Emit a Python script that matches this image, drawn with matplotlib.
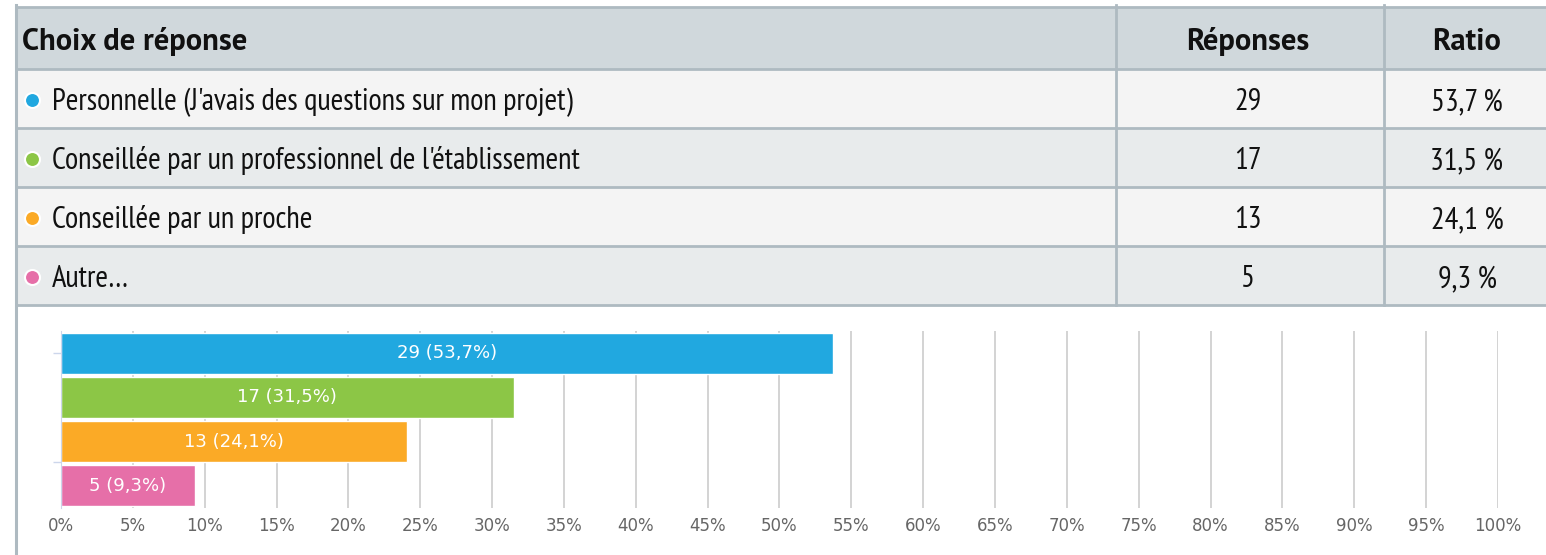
import matplotlib
matplotlib.use("Agg")
import matplotlib.pyplot as plt
from matplotlib.patches import Rectangle, Circle

# data
choices = ["Personnelle (J'avais des questions sur mon projet)",
           "Conseillée par un professionnel de l'établissement",
           "Conseillée par un proche",
           "Autre…"]
counts = [29, 17, 13, 5]
ratios = [53.7, 31.5, 24.1, 9.3]
colors = ["#21a8e0", "#8cc646", "#fbaa26", "#e66fa8"]
headers = ["Choix de réponse", "Réponses", "Ratio"]
x_ticks = list(range(0, 101, 5))

W, H = 1546, 555
fig = plt.figure(figsize=(W / 100, H / 100), dpi=100)
fig.patch.set_facecolor("white")

narrow = ["PT Sans Narrow", "DejaVu Sans"]
wide = ["PT Sans", "DejaVu Sans"]
border = "#aebac1"

# table layer, drawn in pixel coords
tab = fig.add_axes([0, 0, 1, 1])
tab.set_xlim(0, W)
tab.set_ylim(H, 0)
tab.axis("off")

top, head_h, row_h = 7, 62, 59
tab.add_patch(Rectangle((16, top), W - 16, head_h, color="#d0d8dc", lw=0))
row_bg = ["#f4f4f4", "#e8ebec"]
for i in range(len(choices)):
    y0 = top + head_h + i * row_h
    tab.add_patch(Rectangle((16, y0), W - 16, row_h, color=row_bg[i % 2], lw=0))
for i in range(len(choices) + 2):
    y = top if i == 0 else top + head_h + (i - 1) * row_h
    tab.plot([16, W], [y, y], color=border, lw=2, solid_capstyle="butt")
table_bottom = top + head_h + len(choices) * row_h
tab.plot([16, 16], [5, H], color=border, lw=2.2)
for xc in [1116, 1384]:
    tab.plot([xc, xc], [5, table_bottom], color=border, lw=2)

col_x = [22, 1248, 1467]
tab.text(col_x[0], top + 43, headers[0], family=wide, fontsize=22, fontweight="bold",
         color="#111111", ha="left", va="baseline")
for hx, htxt in zip(col_x[1:], headers[1:]):
    tab.text(hx, top + 43, htxt, family=wide, fontsize=22, fontweight="bold",
             color="#111111", ha="center", va="baseline")

for i, (name, c, r, col) in enumerate(zip(choices, counts, ratios, colors)):
    y0 = top + head_h + i * row_h
    base = y0 + 41
    tab.add_patch(Circle((32.5, y0 + row_h / 2 + 2), 7.5, facecolor=col,
                         edgecolor="white", lw=1.5))
    tab.text(52, base, name, family=narrow, fontsize=22, color="#111111",
             ha="left", va="baseline")
    tab.text(col_x[1], base, str(c), family=narrow, fontsize=22, color="#111111",
             ha="center", va="baseline")
    tab.text(col_x[2], base, f"{r:.1f} %".replace(".", ","), family=narrow,
             fontsize=22, color="#111111", ha="center", va="baseline")

# bar chart
ax = fig.add_axes([61 / W, (H - 508) / H, 1437 / W, 177 / H])
ypos = list(range(len(counts)))
ax.barh(ypos, ratios, height=0.93, color=colors, edgecolor="white", linewidth=1, zorder=2)
ax.set_xlim(0, 100)
ax.set_ylim(3.5, -0.5)
ax.set_xticks(x_ticks)
ax.set_xticklabels([f"{t}%" for t in x_ticks])
ax.grid(axis="x", color="#cccccc", lw=1.2)
ax.set_axisbelow(True)
ax.set_facecolor("none")
for s in ["top", "right", "bottom"]:
    ax.spines[s].set_visible(False)
ax.spines["left"].set_color("#ccd6eb")
ax.spines["left"].set_linewidth(0.8)
ax.set_yticks([0, 2.47])
ax.set_yticklabels([])
ax.tick_params(axis="y", length=6, width=1, color="#ccd6eb")
ax.tick_params(axis="x", length=0, pad=6.5, labelsize=12, labelcolor="#666666")

for y, c, r in zip(ypos, counts, ratios):
    ax.text(r / 2, y, f"{c} ({r:.1f}%)".replace(".", ","), color="white",
            fontsize=13, ha="center", va="center", zorder=3)

fig.savefig("out.png", dpi=100, facecolor="white")
